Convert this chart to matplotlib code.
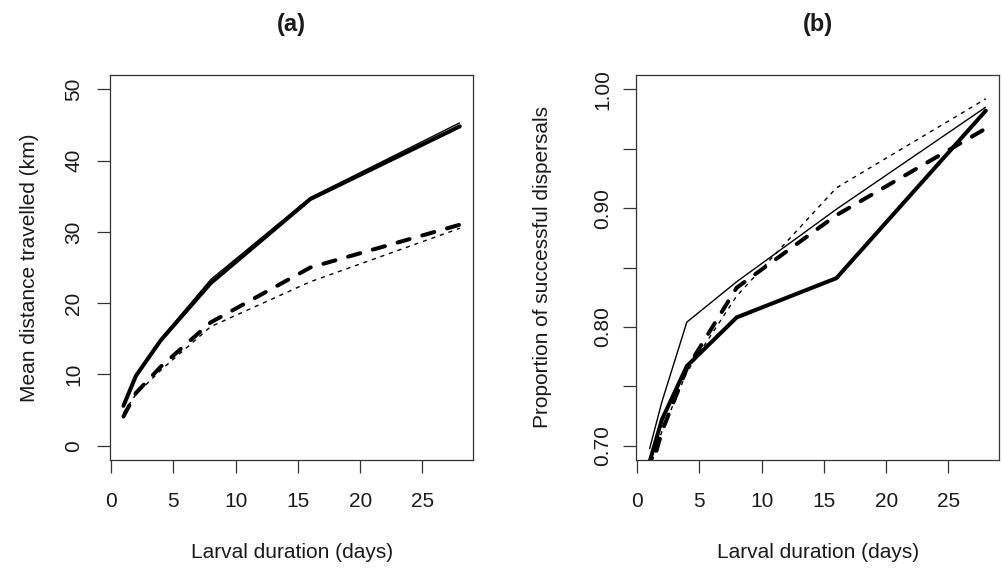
import matplotlib
matplotlib.use("Agg")
import matplotlib.pyplot as plt
from matplotlib.ticker import FixedLocator, FormatStrFormatter

plt.rcParams['font.family'] = ['Liberation Sans', 'DejaVu Sans']
plt.rcParams['lines.scale_dashes'] = False

# Larval durations (days) at which the simulations were run
larval_days = [1, 2, 4, 8, 16, 28]

# (a) mean distance travelled (km)
dist_thick_solid = [5.6, 9.8, 14.8, 22.8, 34.6, 44.8]
dist_thin_solid = [5.8, 10.0, 15.0, 23.3, 34.8, 45.3]
dist_thick_dashed = [4.1, 7.4, 11.1, 17.3, 25.0, 31.0]
dist_thin_dashed = [4.6, 7.2, 10.6, 16.7, 23.0, 30.5]

# (b) proportion of successful dispersals
prop_thick_solid = [0.686, 0.722, 0.767, 0.808, 0.841, 0.982]
prop_thin_solid = [0.697, 0.737, 0.804, 0.838, 0.899, 0.985]
prop_thick_dashed = [0.675, 0.712, 0.765, 0.833, 0.894, 0.967]
prop_thin_dashed = [0.680, 0.712, 0.762, 0.826, 0.917, 0.992]

x_ticks = [0, 5, 10, 15, 20, 25]
dist_ticks = [0, 10, 20, 30, 40, 50]
prop_major = [0.70, 0.80, 0.90, 1.00]
prop_minor = [0.75, 0.85, 0.95]

INK = "#1a1a1a"
FS = 15

fig = plt.figure(figsize=(10.02, 5.70), dpi=100)
W, H = 1002.0, 570.0
ax_a = fig.add_axes([110 / W, 1 - 460 / H, 363.3 / W, 385 / H])
ax_b = fig.add_axes([636 / W, 1 - 460 / H, 363.3 / W, 385 / H])

thick = dict(color="black", lw=2.9, solid_capstyle="round", dash_capstyle="round",
             solid_joinstyle="round")
thin = dict(color="black", lw=1.0, solid_capstyle="butt", dash_capstyle="butt")
long_dash = (0, (9.0, 9.5))
short_dash = (0, (3.0, 3.5))


def draw(ax, ts, tn, td, tdd):
    ax.plot(larval_days, tn, linestyle="-", **thin)
    ax.plot(larval_days, tdd, linestyle=short_dash, **thin)
    ax.plot(larval_days, ts, linestyle="-", **thick)
    ax.plot(larval_days, td, linestyle=long_dash, **thick)


draw(ax_a, dist_thick_solid, dist_thin_solid, dist_thick_dashed, dist_thin_dashed)
draw(ax_b, prop_thick_solid, prop_thin_solid, prop_thick_dashed, prop_thin_dashed)

for ax in (ax_a, ax_b):
    ax.set_xlim(-0.08, 29.08)
    ax.set_xticks(x_ticks)
    for s in ax.spines.values():
        s.set_color("#333333")
        s.set_linewidth(0.9)
    ax.tick_params(axis="both", which="both", length=9.4, width=0.9, color="#333333",
                   labelsize=FS, labelcolor=INK)
    ax.tick_params(axis="x", pad=13.5)
    ax.set_xlabel("Larval duration (days)", fontsize=FS, color=INK)
    ax.xaxis.set_label_coords(0.5, -93 / 385)
    ax.xaxis.label.set_va("center")

ax_a.set_ylim(-2, 52)
ax_a.set_yticks(dist_ticks)
ax_a.tick_params(axis="y", pad=10, labelrotation=90)
ax_a.set_ylabel("Mean distance travelled (km)", fontsize=FS, color=INK)
ax_a.yaxis.set_label_coords(-80 / 363.3, 0.5)

ax_b.set_ylim(0.688, 1.012)
ax_b.yaxis.set_major_locator(FixedLocator(prop_major))
ax_b.yaxis.set_minor_locator(FixedLocator(prop_minor))
ax_b.yaxis.set_major_formatter(FormatStrFormatter("%.2f"))
ax_b.tick_params(axis="y", pad=7.6, labelrotation=90)
ax_b.set_ylabel("Proportion of successful dispersals", fontsize=FS, color=INK)
ax_b.yaxis.set_label_coords(-93 / 363.3, 0.5)

for ax in (ax_a, ax_b):
    for lab in ax.get_yticklabels():
        lab.set_va("center")
    ax.yaxis.label.set_va("center")

ax_a.text(0.5, 1 + 50 / 385, "(a)", transform=ax_a.transAxes, ha="center", va="center",
          fontsize=17, fontweight="bold", color=INK)
ax_b.text(0.5, 1 + 50 / 385, "(b)", transform=ax_b.transAxes, ha="center", va="center",
          fontsize=17, fontweight="bold", color=INK)

fig.savefig("out.png", dpi=100)
